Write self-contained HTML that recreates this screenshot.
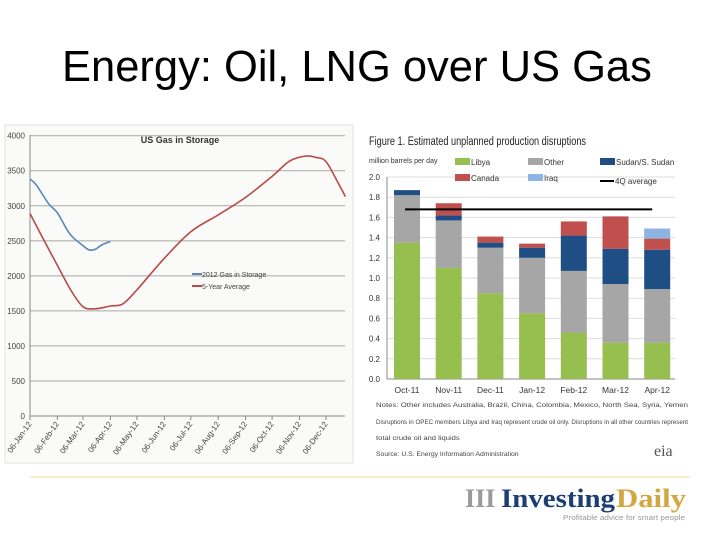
<!DOCTYPE html>
<html><head><meta charset="utf-8"><style>
body{margin:0;width:720px;height:540px;background:#fff;position:relative;overflow:hidden;font-family:"Liberation Sans",sans-serif}
#title{position:absolute;left:62px;top:42px;font-size:43.5px;color:#000;white-space:nowrap;line-height:1.15}
svg{position:absolute;left:0;top:0}
</style></head><body>
<div id="title">Energy: Oil, LNG over US Gas</div>
<svg id="s" width="720" height="540"></svg>
<script>
// Gas storage chart data (x = day of year, y = Bcf)
const gasTicks=[0,500,1000,1500,2000,2500,3000,3500,4000];
const monthLabels=["06-Jan-12","06-Feb-12","06-Mar-12","06-Apr-12","06-May-12","06-Jun-12","06-Jul-12","06-Aug-12","06-Sep-12","06-Oct-12","06-Nov-12","06-Dec-12"];
const monthDays=[6,37,66,97,127,158,188,219,250,280,311,341];
const avgDays=[6,20,37,52,66,80,97,111,127,158,188,219,250,280,300,318,330,341,355,363];
const avgVals=[2890,2550,2150,1800,1560,1530,1570,1600,1800,2250,2630,2870,3120,3420,3640,3710,3690,3630,3320,3130];
const g12Days=[6,13,27,37,51,66,73,80,87,97];
const g12Vals=[3380,3300,3030,2900,2600,2430,2370,2380,2440,2490];
// Disruptions chart data
const months=["Oct-11","Nov-11","Dec-11","Jan-12","Feb-12","Mar-12","Apr-12"];
const libya=[1.35,1.10,0.85,0.65,0.46,0.36,0.36];
const other=[0.47,0.47,0.45,0.55,0.61,0.58,0.53];
const sudan=[0.05,0.05,0.05,0.10,0.35,0.35,0.39];
const canada=[0,0.12,0.06,0.04,0.14,0.32,0.11];
const iraq=[0,0,0,0,0,0,0.10];
const avg4Q=1.68;
const oilTicks=["0.0","0.2","0.4","0.6","0.8","1.0","1.2","1.4","1.6","1.8","2.0"];

const NS="http://www.w3.org/2000/svg",S=document.getElementById('s');
function el(t,a,txt){const e=document.createElementNS(NS,t);for(const k in a)e.setAttribute(k,a[k]);if(txt!=null)e.textContent=txt;S.appendChild(e);return e;}
function smooth(pts){let d='M'+pts[0][0]+','+pts[0][1];for(let i=0;i<pts.length-1;i++){const p0=pts[i-1]||pts[i],p1=pts[i],p2=pts[i+1],p3=pts[i+2]||p2;d+=` C${p1[0]+(p2[0]-p0[0])/6},${p1[1]+(p2[1]-p0[1])/6} ${p2[0]-(p3[0]-p1[0])/6},${p2[1]-(p3[1]-p1[1])/6} ${p2[0]},${p2[1]}`;}return d;}

// ---- Left chart
let r=el('rect',{x:5,y:125,width:348,height:338,fill:'#fafaf8',stroke:'#e2e2e2'});


const gx=d=>30+(d-6)*(326-30)/(341-6), gy=v=>416-v*(416-135.7)/4000;
gasTicks.forEach(v=>{
  const l=el('line',{x1:30,x2:345,y1:gy(v),y2:gy(v),stroke:v?'#a8a8a8':'#888','stroke-width':1});
  
  
  const t=el('text',{x:25,y:gy(v)+3,'font-size':8,fill:'#444','text-anchor':'end'},v);
  
  
});
el('line',{x1:30,x2:30,y1:135,y2:416,stroke:'#888'});
monthLabels.forEach((m,i)=>{
  const x=gx(monthDays[i]);
  el('line',{x1:x,x2:x,y1:416,y2:420,stroke:'#888'});
  const t=el('text',{x:x+2,y:424,'font-size':8,fill:'#444','text-anchor':'end',transform:`rotate(-55 ${x+2} 424)`},m);
  
  
});
let tt=el('text',{x:180,y:143,'font-size':9,'font-weight':'bold',fill:'#333','text-anchor':'middle'},'US Gas in Storage');


let p=el('path',{d:smooth(avgDays.map((d,i)=>[gx(d),gy(avgVals[i])])),fill:'none',stroke:'#b94a48','stroke-width':1.6});


p=el('path',{d:smooth(g12Days.map((d,i)=>[gx(d),gy(g12Vals[i])])),fill:'none',stroke:'#5b86b8','stroke-width':1.6});


[['2012 Gas in Storage','#5b86b8',274],['5-Year Average','#b94a48',286]].forEach(([n,c,y])=>{
  el('line',{x1:192,x2:202,y1:y,y2:y,stroke:c,'stroke-width':2});
  const t=el('text',{x:202,y:y+3,'font-size':7,fill:'#444'},n);
  
  
});

// ---- Right chart
const ox=i=>407+i*41.7, oy=v=>379-v*(379-177)/2.0;
el('text',{x:369,y:145,'font-size':11.5,fill:'#222',textLength:217,lengthAdjust:'spacingAndGlyphs'},'Figure 1. Estimated unplanned production disruptions');
el('text',{x:369,y:163,'font-size':7,fill:'#333'},'million barrels per day');
oilTicks.forEach((t,i)=>{
  const v=+t;
  if(v>0){const l=el('line',{x1:387,x2:675,y1:oy(v),y2:oy(v),stroke:'#ddd'});}
  const tx=el('text',{x:380,y:oy(v)+3,'font-size':8,fill:'#333','text-anchor':'end'},t);
  
  
});
el('line',{x1:387,x2:675,y1:379,y2:379,stroke:'#888'});
el('line',{x1:387,x2:387,y1:177,y2:379,stroke:'#888'});
const series=[[libya,'#97bf4f'],[other,'#a6a6a6'],[sudan,'#1f4e85'],[canada,'#c0504d'],[iraq,'#8db4e2']];
months.forEach((m,i)=>{
  let base=0;
  series.forEach(([arr,c])=>{
    const v=arr[i]; if(!v) return;
    const b=el('rect',{x:ox(i)-13,y:oy(base+v),width:26,height:oy(base)-oy(base+v),fill:c});
    
    
    base+=v;
  });
  const t=el('text',{x:ox(i),y:393,'font-size':8.5,fill:'#333','text-anchor':'middle'},m);
  
  
});
let al=el('line',{x1:ox(0)-2,x2:ox(6)-5,y1:oy(avg4Q),y2:oy(avg4Q),stroke:'#000','stroke-width':2});


[['Libya','#97bf4f',470,165],['Other','#a6a6a6',543,165],['Sudan/S. Sudan','#1f4e85',615,165],['Canada','#c0504d',470,181],['Iraq','#8db4e2',543,181]].forEach(([n,c,x,y])=>{
  el('rect',{x:x-15,y:y-7,width:15,height:7,fill:c});
  const t=el('text',{x:x+1,y:y,'font-size':8,fill:'#333'},n);
  
  
});
el('line',{x1:600,x2:614,y1:181,y2:181,stroke:'#000','stroke-width':2});
el('text',{x:615,y:184,'font-size':8,fill:'#333'},'4Q average');
[['Notes: Other includes Australia, Brazil, China, Colombia, Mexico, North Sea, Syria, Yemen',407],['Disruptions in OPEC members Libya and Iraq represent crude oil only. Disruptions in all other countries represent',424],['total crude oil and liquids',440],['Source: U.S. Energy Information Administration',456]].forEach(([n,y])=>{
  const t=el('text',{x:376,y:y,'font-size':6,fill:'#444',textLength:n.length>60?312:(n.length*3.1),lengthAdjust:'spacingAndGlyphs'},n);
  
  
});
el('text',{x:654,y:456,'font-size':16,fill:'#555','font-family':'Liberation Serif'},'eia');

// ---- Footer
el('line',{x1:30,x2:690,y1:477,y2:477,stroke:'#f2e6b8','stroke-width':1.5});
el('text',{x:465,y:507,'font-size':26,fill:'#9a9a9a','font-family':'Liberation Serif','font-weight':'bold'},'III');
let lg=el('text',{x:501,y:507,'font-size':26,fill:'#1c3f73','font-family':'Liberation Serif','font-weight':'bold',textLength:114,lengthAdjust:'spacingAndGlyphs'},'Investing');


el('text',{x:616,y:507,'font-size':26,fill:'#d4a640','font-family':'Liberation Serif','font-weight':'bold',textLength:70,lengthAdjust:'spacingAndGlyphs'},'Daily');
el('text',{x:563,y:520,'font-size':7,fill:'#999',textLength:122,lengthAdjust:'spacingAndGlyphs'},'Profitable advice for smart people');
</script>
</body></html>
